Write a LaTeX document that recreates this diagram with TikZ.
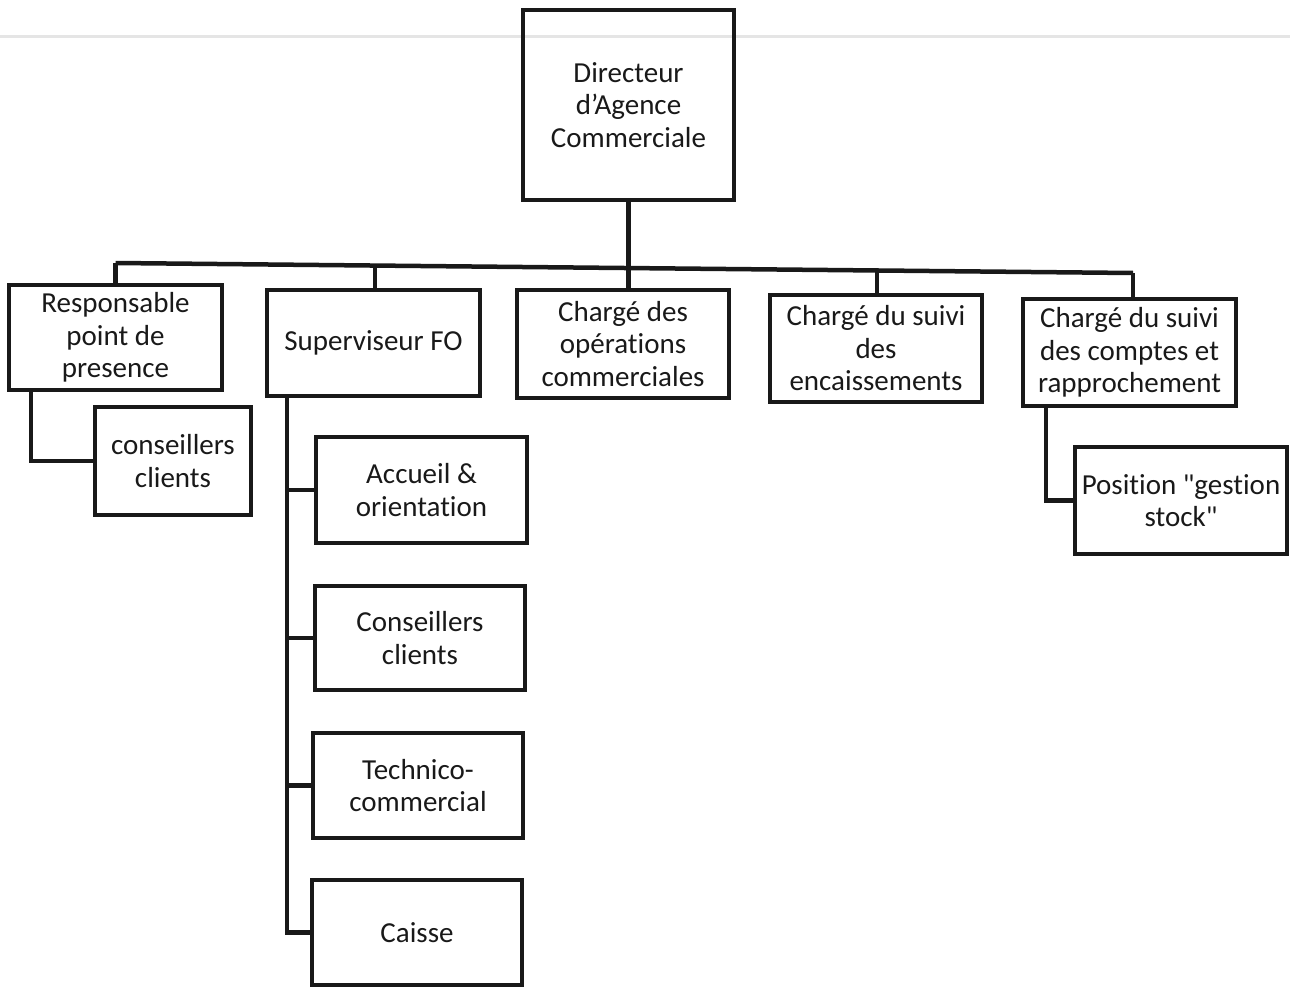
\documentclass[tikz,border=0pt]{standalone}
\usepackage{fontspec}
% Carlito without TeX quote mapping, so straight quotes stay straight
\newfontfamily\boxfont{Carlito}[Ligatures=NoCommon]
\begin{document}
\begin{tikzpicture}[x=1pt,y=-1pt,
  box/.style={draw=black!90, line width=4.5pt, align=center, inner sep=0pt,
    text=black!90, font=\boxfont\fontsize{29}{32.5}\selectfont},
  link/.style={draw=black!90, line width=4.5pt}]
\useasboundingbox (0,0) rectangle (1290,987);
% faint header rule across the page
\draw[black!10, line width=3pt] (0,37) -- (1290,37);

% boxes
\node[box, minimum width=211, minimum height=190] (dir) at (628.5,105) {Directeur\\d’Agence\\Commerciale};
\node[box, minimum width=213, minimum height=105] (rpp) at (115.5,337.5) {Responsable\\point de\\presence};
\node[box, minimum width=213, minimum height=106] (sfo) at (373.5,343) {Superviseur FO};
\node[box, minimum width=212, minimum height=108] (cop) at (623,344) {Chargé des\\opérations\\commerciales};
\node[box, minimum width=212, minimum height=107] (cse) at (876,348.5) {Chargé du suivi\\des\\encaissements};
\node[box, minimum width=213, minimum height=107] (csc) at (1129.5,352.5) {Chargé du suivi\\des comptes et\\rapprochement};
\node[box, minimum width=156, minimum height=108] (cc1) at (173,461) {conseillers\\clients};
\node[box, minimum width=211, minimum height=106] (acc) at (421.5,490) {Accueil \&\\orientation};
\node[box, minimum width=210, minimum height=104] (con) at (420,638) {Conseillers\\clients};
\node[box, minimum width=210, minimum height=105] (tec) at (418,785.5) {Technico-\\commercial};
\node[box, minimum width=210, minimum height=105] (cai) at (417,932.5) {Caisse};
\node[box, minimum width=212, minimum height=107] (pos) at (1181,500.5) {Position "gestion\\stock"};

% points on the main bus
\coordinate (b1) at (115.5,263);
\coordinate (b2) at (375,265.5);
\coordinate (b3) at (628.5,268);
\coordinate (b4) at (877,270.5);
\coordinate (b5) at (1133,273);

\draw[link] (b1) -- (b5);
\draw[link] (dir.south) -- (b3);
\draw[link] (b1) -- (b1 |- rpp.north);
\draw[link] (b2) -- (b2 |- sfo.north);
\draw[link] (b3) -- (b3 |- cop.north);
\draw[link] (b4) -- (b4 |- cse.north);
\draw[link] (b5) -- (b5 |- csc.north);

% sub-branches
\coordinate (r1) at (31,390);
\draw[link] (r1) |- (cc1.west);

\coordinate (s1) at (287,396);
\draw[link] (s1) |- (cai.west);
\draw[link] (s1 |- acc.west) -- (acc.west);
\draw[link] (s1 |- con.west) -- (con.west);
\draw[link] (s1 |- tec.west) -- (tec.west);

\coordinate (c1) at (1046,406);
\draw[link] (c1) |- (pos.west);
\end{tikzpicture}
\end{document}
